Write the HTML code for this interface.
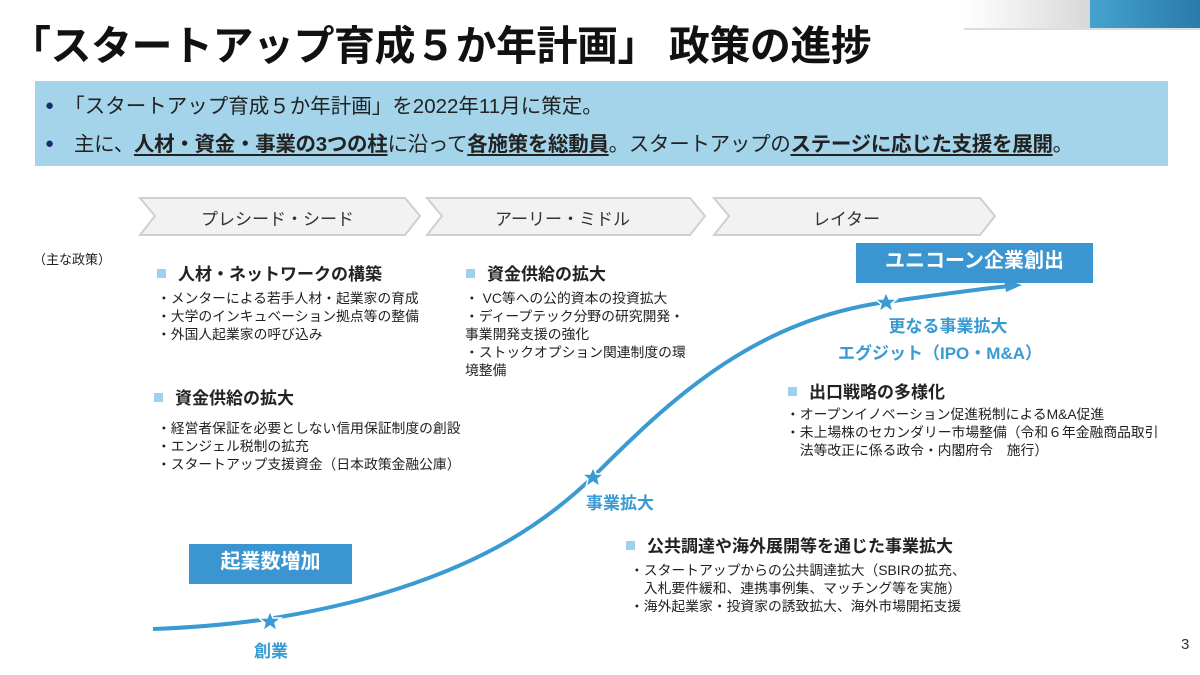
<!DOCTYPE html>
<html><head><meta charset="utf-8"><style>
body{margin:0;width:1200px;height:675px;background:#fff;position:relative;overflow:hidden;font-family:"Liberation Sans","Noto Sans CJK JP",sans-serif;color:#222}
.a{position:absolute;white-space:nowrap}
.h{font-weight:bold;font-size:17px}
.h:before{content:"";display:inline-block;width:9px;height:9px;background:#9fd2ea;margin-right:12px;vertical-align:2px}
.t{font-size:13.8px;line-height:18px}
.blue{color:#3a9ad2;font-weight:bold}
u{text-decoration-thickness:2px;text-underline-offset:3px}
</style></head><body>
<div class="a" style="left:964px;top:0;width:126px;height:28px;background:linear-gradient(90deg,#fff,#d8d8d8);border-bottom:2px solid #ddd"></div>
<div class="a" style="left:1090px;top:0;width:110px;height:28px;background:linear-gradient(90deg,#45a3cf,#2a7aa8);border-bottom:2px solid #ddd"></div>
<div class="a" style="left:10px;top:12px;font-size:41px;font-weight:bold;color:#111;letter-spacing:-0.5px">「スタートアップ育成５か年計画」 政策の進捗</div>
<div class="a" style="left:35px;top:81px;width:1133px;height:85px;background:#a4d4ea"></div>
<div class="a" style="left:45px;top:89px;font-size:20.5px;color:#222"><span style="color:#1a2a6c;font-size:15px;vertical-align:3px">●</span>　「スタートアップ育成５か年計画」を2022年11月に策定。</div>
<div class="a" style="left:45px;top:127px;font-size:20.5px;color:#222;letter-spacing:-0.3px"><span style="color:#1a2a6c;font-size:15px;vertical-align:3px">●</span>　主に、<u><b>人材・資金・事業の3つの柱</b></u>に沿って<u><b>各施策を総動員</b></u>。スタートアップの<u><b>ステージに応じた支援を展開</b></u>。</div>
<svg class="a" style="left:0;top:0" width="1200" height="675">
<g fill="#f2f2f2" stroke="#cfcfcf" stroke-width="2">
<polygon points="140,198 405,198 420,216 405,235 140,235 155,216"/>
<polygon points="427,198 690,198 705,216 690,235 427,235 442,216"/>
<polygon points="714,198 980,198 995,216 980,235 714,235 729,216"/>
</g>
<path d="M153,629 C230,626 290,618 360,600 C470,570 540,530 600,470 C680,390 760,320 886,302 C930,296 970,290 1010,286" fill="none" stroke="#3a9ad2" stroke-width="4"/>
<polygon points="1022,285 1004,279 1006,292" fill="#3a9ad2"/>
<g fill="#3a9ad2">
<polygon points="270,611 273,618 281,618 275,623 277,631 270,626 263,631 265,623 259,618 267,618" stroke="#fff" stroke-width="1.5"/>
<polygon points="593,467 596,474 604,474 598,479 600,487 593,482 586,487 588,479 582,474 590,474" stroke="#fff" stroke-width="1.5"/>
<polygon points="886,292 889,299 897,299 891,304 893,312 886,307 879,312 881,304 875,299 883,299" stroke="#fff" stroke-width="1.5"/>
</g>
</svg>
<div class="a" style="left:145px;top:205px;width:265px;text-align:center;font-size:17px;color:#333">プレシード・シード</div>
<div class="a" style="left:430px;top:205px;width:265px;text-align:center;font-size:17px;color:#333">アーリー・ミドル</div>
<div class="a" style="left:714px;top:205px;width:265px;text-align:center;font-size:17px;color:#333">レイター</div>
<div class="a" style="left:33px;top:249px;font-size:13px">（主な政策）</div>
<div class="a h" style="left:157px;top:260px">人材・ネットワークの構築</div>
<div class="a t" style="left:157px;top:290px">・メンターによる若手人材・起業家の育成<br>・大学のインキュベーション拠点等の整備<br>・外国人起業家の呼び込み</div>
<div class="a h" style="left:466px;top:260px">資金供給の拡大</div>
<div class="a t" style="left:465px;top:290px">・ VC等への公的資本の投資拡大<br>・ディープテック分野の研究開発・<br>事業開発支援の強化<br>・ストックオプション関連制度の環<br>境整備</div>
<div class="a h" style="left:154px;top:384px">資金供給の拡大</div>
<div class="a t" style="left:157px;top:420px">・経営者保証を必要としない信用保証制度の創設<br>・エンジェル税制の拡充<br>・スタートアップ支援資金（日本政策金融公庫）</div>
<div class="a h" style="left:788px;top:378px">出口戦略の多様化</div>
<div class="a t" style="left:786px;top:406px">・オープンイノベーション促進税制によるM&amp;A促進<br>・未上場株のセカンダリー市場整備（令和６年金融商品取引<br>　法等改正に係る政令・内閣府令　施行）</div>
<div class="a h" style="left:626px;top:532px">公共調達や海外展開等を通じた事業拡大</div>
<div class="a t" style="left:630px;top:562px">・スタートアップからの公共調達拡大（SBIRの拡充、<br>　入札要件緩和、連携事例集、マッチング等を実施）<br>・海外起業家・投資家の誘致拡大、海外市場開拓支援</div>
<div class="a" style="left:856px;top:243px;width:237px;height:40px;background:#3a95d0;color:#fff;font-size:20px;font-weight:bold;text-align:center;line-height:36px">ユニコーン企業創出</div>
<div class="a" style="left:189px;top:544px;width:163px;height:40px;background:#3a95d0;color:#fff;font-size:20px;font-weight:bold;text-align:center;line-height:36px">起業数増加</div>
<div class="a blue" style="left:838px;top:316px;width:220px;text-align:center;font-size:17px;line-height:22px">更なる事業拡大</div>
<div class="a blue" style="left:838px;top:339px;font-size:17px">エグジット（IPO・M&amp;A）</div>
<div class="a blue" style="left:586px;top:489px;font-size:17px">事業拡大</div>
<div class="a blue" style="left:254px;top:637px;font-size:17px">創業</div>
<div class="a" style="left:1181px;top:636px;font-size:15px;color:#333">3</div>
</body></html>
